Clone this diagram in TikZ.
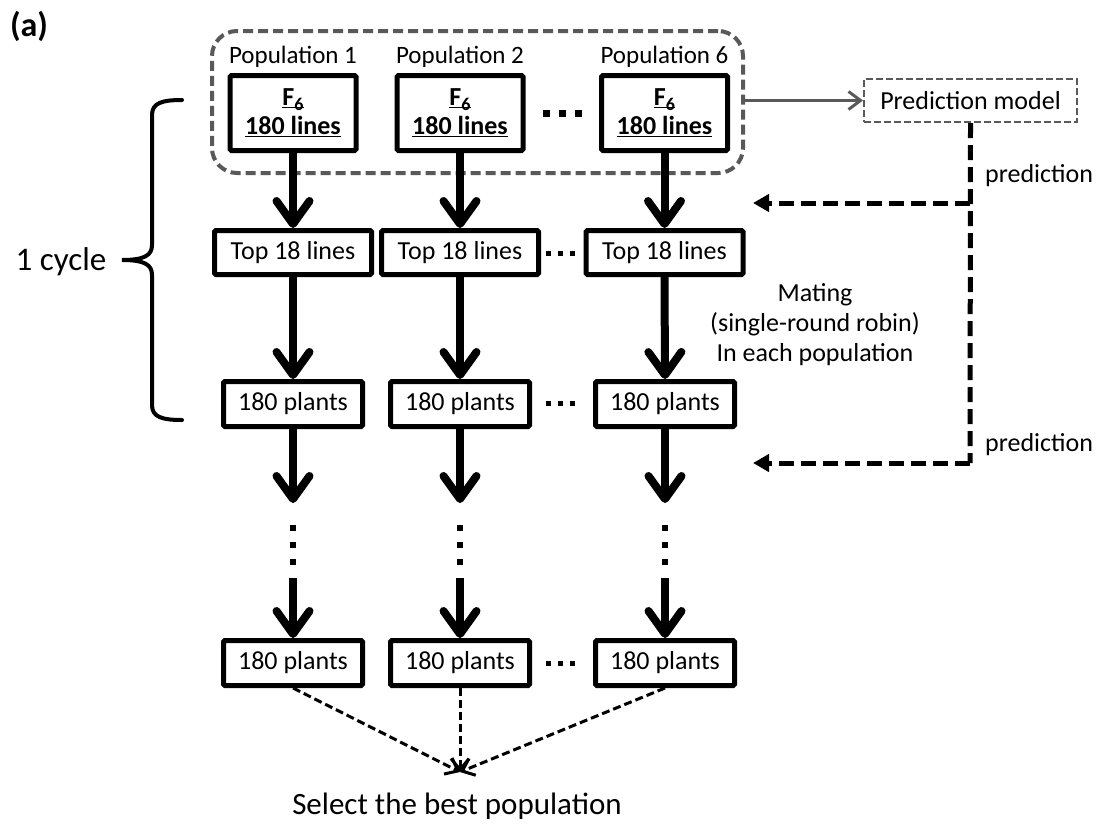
\documentclass[tikz,border=0pt]{standalone}
\usepackage{fontspec}
\setmainfont{Carlito}
\usetikzlibrary{arrows.meta}

% underline at a fixed depth, so that it runs through a low subscript
\newsavebox{\ulbox}
\newcommand{\barunder}[1]{\sbox{\ulbox}{#1}\rlap{\rule[-3pt]{\wd\ulbox}{1.8pt}}\usebox{\ulbox}}

\definecolor{framegray}{HTML}{595959}

\begin{document}
\begin{tikzpicture}[x=1pt,y=-1pt,
  every node/.style={inner sep=0pt},
  body/.style={font=\fontsize{26}{30}\selectfont},
  stagebox/.style={draw, line width=5pt, rounded corners=1.5pt, fill=white, body},
  fbox/.style={stagebox, minimum width=126pt, minimum height=75pt, align=center,
    font=\fontsize{26}{29}\selectfont\bfseries},
  topbox/.style={stagebox, minimum width=157pt, minimum height=44pt},
  plantbox/.style={stagebox, minimum width=139pt, minimum height=45pt},
  poplabel/.style={font=\fontsize{25}{28}\selectfont, anchor=base},
  bigarrow/.style={line width=8pt, -{Straight Barb[length=23pt, width=33pt, round]}},
  predarrow/.style={line width=5pt, dash pattern=on 15pt off 7pt,
    -{Triangle[length=16pt, width=17pt]}},
  predline/.style={line width=5pt, dash pattern=on 15pt off 7pt},
  selarrow/.style={line width=3pt, dash pattern=on 8pt off 4pt,
    -{Straight Barb[length=11pt, width=18pt]}},
  grayarrow/.style={line width=3pt, draw=framegray,
    -{Straight Barb[length=12pt, width=18pt]}},
]
\useasboundingbox (0,0) rectangle (1102,828);

% panel tag
\node[font=\fontsize{34}{36}\selectfont\bfseries] (tag) at (29,26) {(a)};

% dashed frame around the founding populations
\node[draw=framegray, line width=4pt, dash pattern=on 10pt off 5pt,
  rounded corners=25pt, minimum width=531pt, minimum height=142pt] (grp) at (477.5,102) {};

% prediction model
\node[draw=framegray, line width=2pt, dash pattern=on 7pt off 3pt,
  minimum width=213pt, minimum height=43pt, body] (model) at (970.5,100.5) {Prediction model};
\draw[grayarrow] (grp.east |- model.west) -- (model.west);

% columns of the breeding scheme
\foreach \c/\x/\p/\wl/\wp in {1/293/1/293/293, 2/460/2/460/460, 3/664.5/6/664.5/665} {
  \node[poplabel] (p\c) at (\x,63) {Population \p};
  \node[fbox] (f\c) at (\x,113)
    {\barunder{F\raisebox{-5pt}[0pt][0pt]{\fontsize{18}{18}\selectfont 6}}\\\barunder{180 lines}};
  \node[topbox] (t\c) at (\wl,252.5) {Top 18 lines};
  \node[plantbox] (a\c) at (\wp,404) {180 plants};
  \node[plantbox] (g\c) at (\wp,663) {180 plants};
  \coordinate (up\c) at (\wp,503);
  \coordinate (dn\c) at (\wp,578);
  \draw[bigarrow] (f\c.south) -- (t\c.north);
  \draw[bigarrow] (t\c.south) -- (a\c.north);
  \draw[bigarrow] (a\c.south) -- (up\c);
  \draw[bigarrow] (dn\c) -- (g\c.north);
  \foreach \y in {528,545,562}
    \fill (\wp-3,\y-3) rectangle (\wp+3,\y+3);
}

% horizontal ellipses between the second and the last column
\foreach \x in {546,562,578}
  \fill (\x-3.5,109.5) rectangle (\x+3.5,116.5);
\foreach \y in {253,403,663}
  \foreach \x in {548,560,572}
    \fill (\x-2.5,\y-2.5) rectangle (\x+2.5,\y+2.5);

% predictions fed back to the selection steps
\coordinate (c1) at (970,203);
\coordinate (c2) at (970,463);
\coordinate (e1) at (753,203);
\coordinate (e2) at (753,463);
\draw[predline] (model.south) -- (c2);
\draw[predarrow] (c1) -- (e1);
\draw[predarrow] (c2) -- (e2);
\node[body, anchor=base west] (pl1) at (985,182) {prediction};
\node[body, anchor=base west] (pl2) at (985,451) {prediction};

% mating note
\node[body, align=center] (mate) at (815,325) {Mating\\(single-round robin)\\In each population};

% one cycle brace
\draw[line width=4pt, line cap=round]
  (182,100) .. controls (162,100) and (152,103) .. (152,115) -- (152,245)
  .. controls (152,255) and (145,260) .. (122,260)
  .. controls (145,260) and (152,265) .. (152,275) -- (152,405)
  .. controls (152,417) and (162,420) .. (182,420);
\node[font=\fontsize{33}{36}\selectfont] (cyc) at (61,262) {1 cycle};

% final choice
\coordinate (sel) at (460,772);
\draw[selarrow] (g1.south) -- (sel);
\draw[selarrow] (g2.south) -- (sel);
\draw[selarrow] (g3.south) -- (sel);
\node[font=\fontsize{31}{34}\selectfont] (best) at (457,806) {Select the best population};
\end{tikzpicture}
\end{document}
